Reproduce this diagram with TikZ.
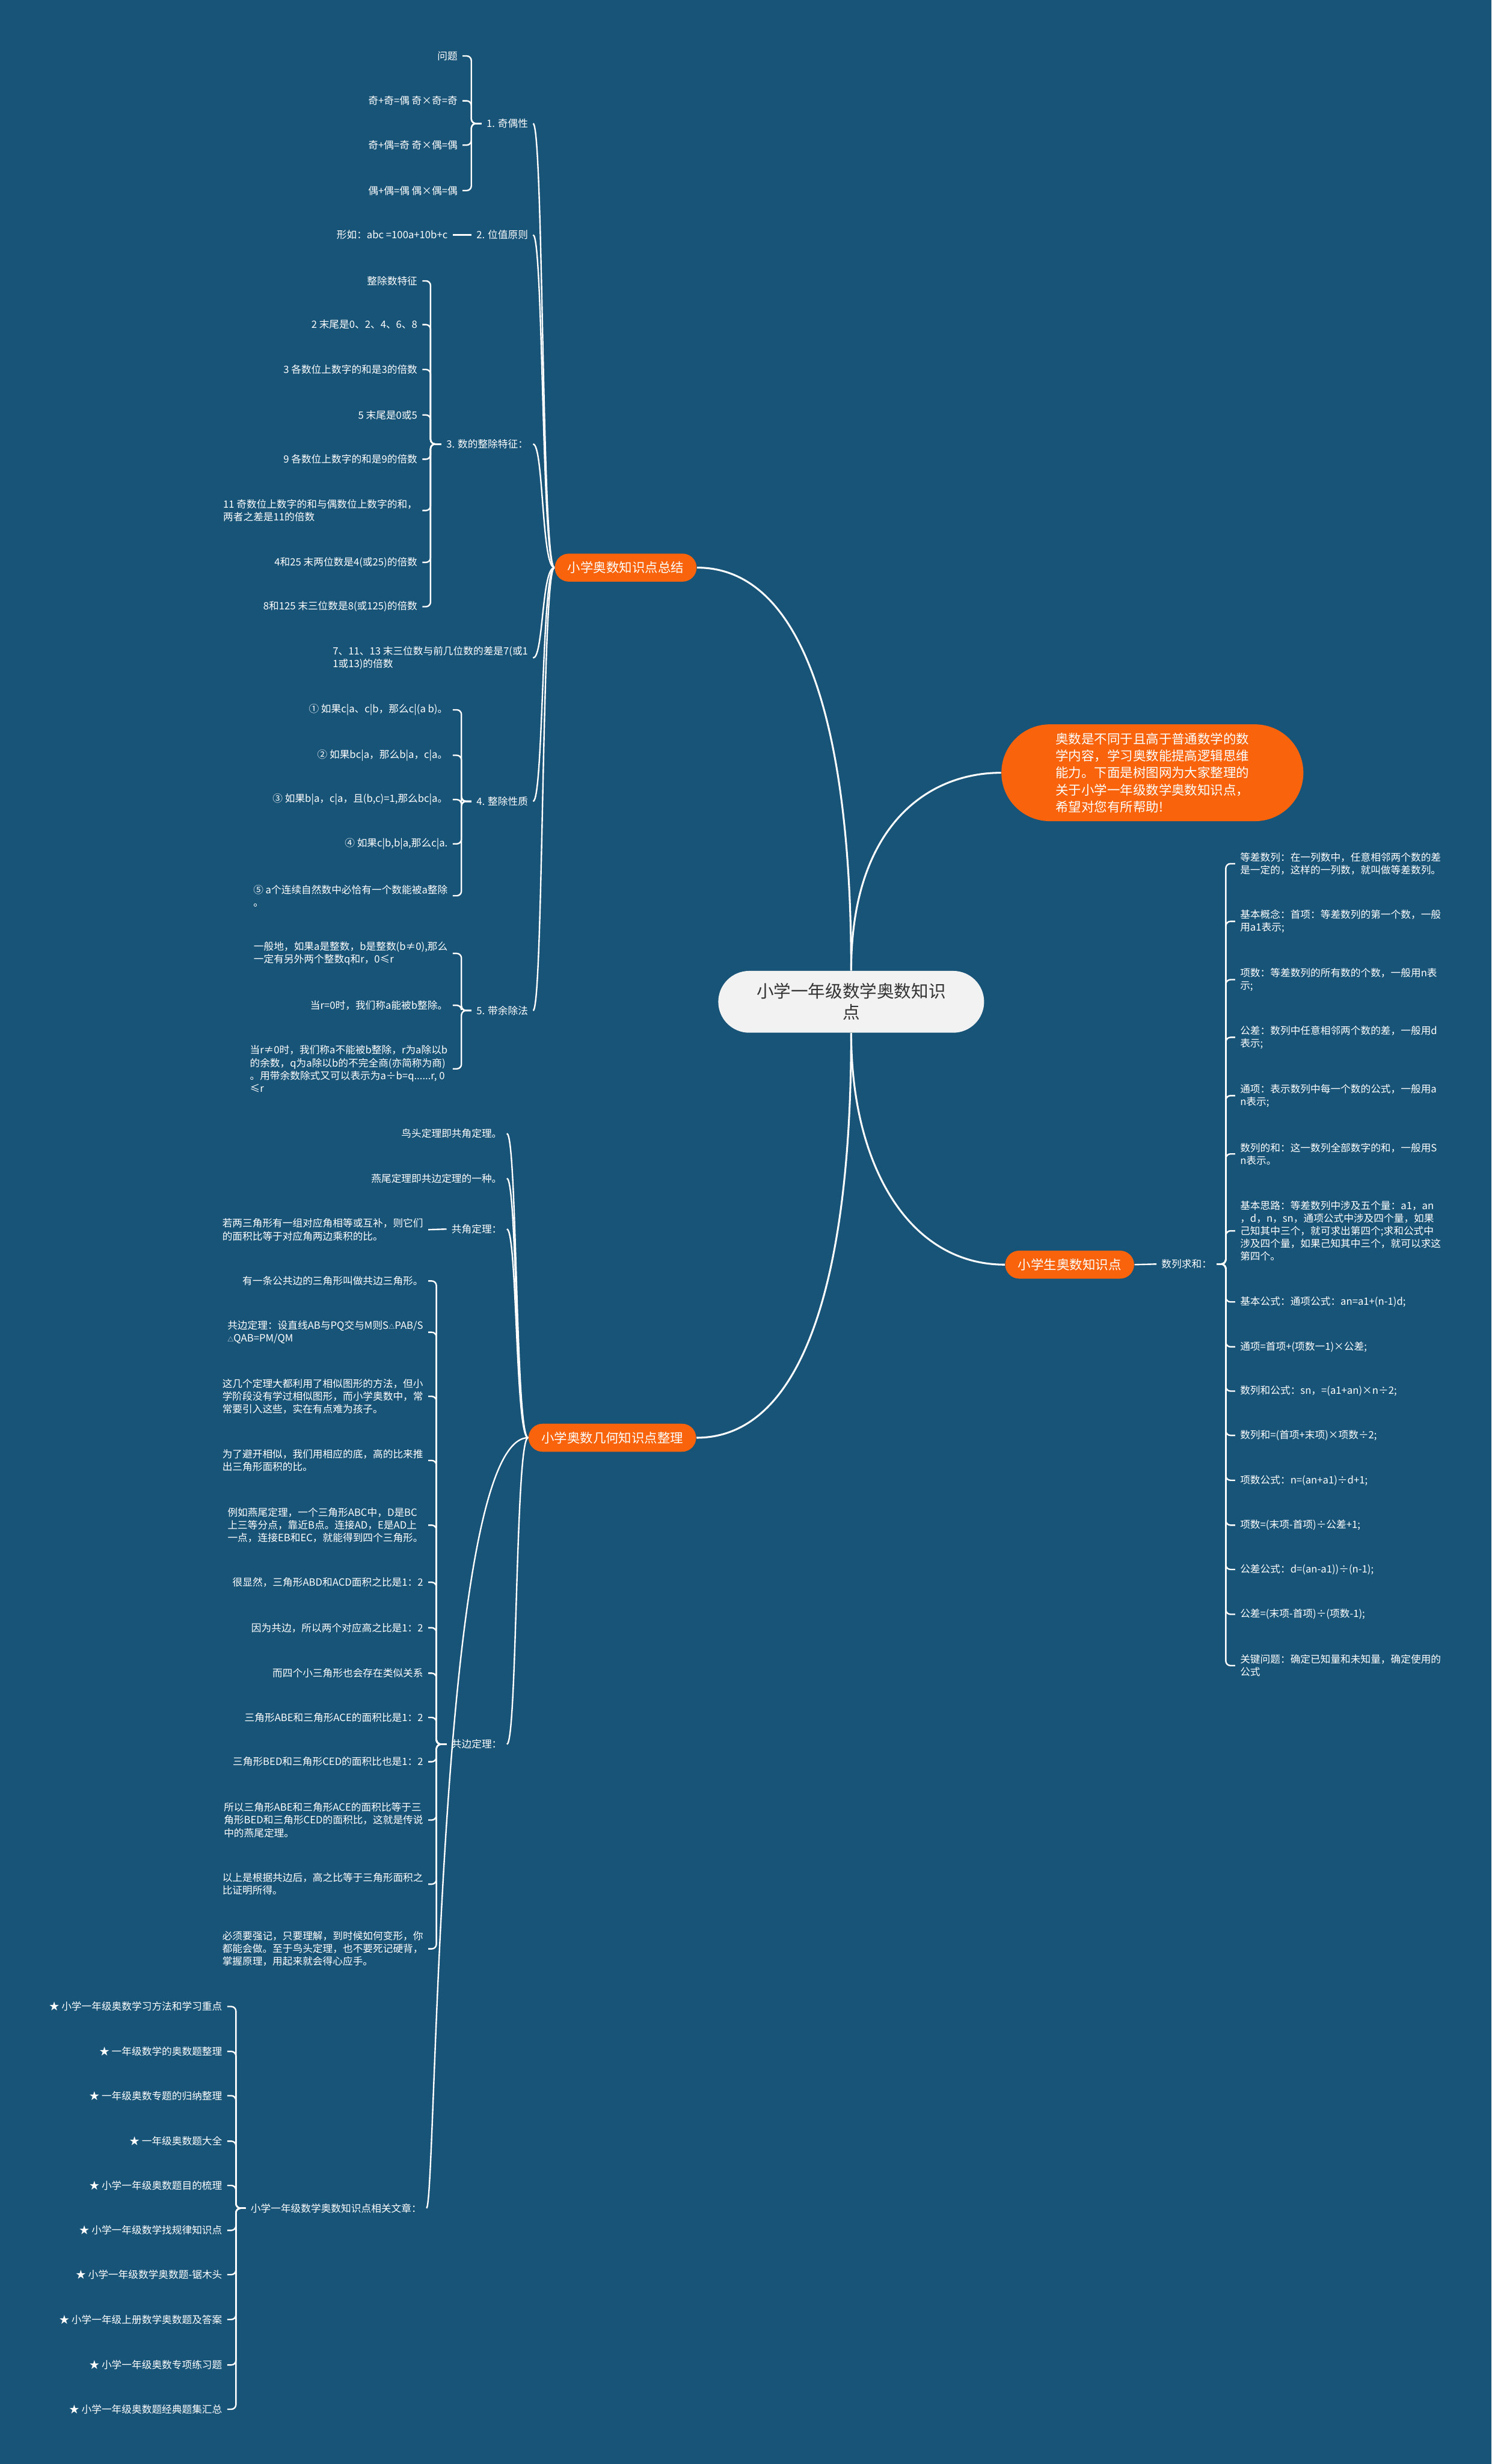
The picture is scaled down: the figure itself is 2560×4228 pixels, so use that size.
\documentclass[tikz,border=0pt]{standalone}
\usepackage{fontspec}
\setmainfont{Noto Sans CJK SC}
\usetikzlibrary{positioning}
\definecolor{mapbg}{HTML}{185478}
\definecolor{maporange}{HTML}{F8630B}
\definecolor{maproot}{HTML}{F2F2F2}
\definecolor{maprootink}{HTML}{333333}
\newcommand\leaffont{\fontsize{4.9pt}{6.2pt}\selectfont}
\newcommand\pillfont{\fontsize{6.3pt}{8.3pt}\selectfont}
\newcommand\rootfont{\fontsize{8.4pt}{10.2pt}\selectfont}
\newcommand\tri{{\fontsize{3pt}{3pt}\selectfont △}}
\tikzset{
  leaf/.style={inner xsep=0.08cm, inner ysep=0pt, text=white, font=\leaffont, align=left},
  leafL/.style={leaf, anchor=east},
  leafR/.style={leaf, anchor=west},
  pill/.style={fill=maporange, text=white, font=\pillfont, rounded corners=0.24cm, minimum height=0.48cm, inner xsep=0.22cm, inner ysep=0pt},
  link/.style={draw=white, line width=0.7pt},
  brace/.style={link, rounded corners=0.08cm},
  trunk/.style={draw=white, line width=0.9pt}
}
\begin{document}
\begin{tikzpicture}[x=0.01cm, y=-0.01cm]
\fill[mapbg] (0,0) rectangle (2560,4228);
\useasboundingbox (0,0) rectangle (2560,4228);

% root and main branches
\node[fill=maproot, text=maprootink, font=\rootfont, align=center, rounded corners=0.53cm, minimum width=4.56cm, minimum height=1.06cm] (root) at (1461,1719) {小学一年级数学奥数知识\\点};
\node[pill, minimum width=5.18cm, minimum height=1.66cm, rounded corners=0.83cm, align=left] (intro) at (1978,1326) {奥数是不同于且高于普通数学的数\\学内容，学习奥数能提高逻辑思维\\能力。下面是树图网为大家整理的\\关于小学一年级数学奥数知识点，\\希望对您有所帮助!};
\node[pill] (sumy) at (1074,974) {小学奥数知识点总结};
\node[pill] (geo) at (1051,2467) {小学奥数几何知识点整理};
\node[pill] (seq) at (1836,2170) {小学生奥数知识点};

\draw[trunk] (root.north) .. controls (1461,1250) and (1380,974) .. (sumy.east);
\draw[trunk] (root.north) .. controls (1461,1420) and (1590,1326) .. (intro.west);
\draw[trunk] (root.south) .. controls (1461,2190) and (1380,2467) .. (geo.east);
\draw[trunk] (root.south) .. controls (1461,2000) and (1560,2170) .. (seq.west);

% summary branch
\node[leafL] (par) at (915,212) {1. 奇偶性};
\node[leafL] (pv) at (915,403) {2. 位值原则};
\node[leafL] (divc) at (915,762) {3. 数的整除特征：};
\node[leafL] (d7) at (915,1129) {7、11、13 末三位数与前几位数的差是7(或1\\1或13)的倍数};
\node[leafL] (divp) at (915,1375) {4. 整除性质};
\node[leafL] (rem) at (915,1734) {5. 带余除法};
\foreach \c in {par,pv,divc,d7,divp,rem}
  \draw[link] (sumy.west) .. controls +(-22,0) and +(18,0) .. (\c.east);

\node[leafL] (par1) at (794,96) {问题};
\node[leafL] (par2) at (794,173) {奇+奇=偶 奇×奇=奇};
\node[leafL] (par3) at (794,249) {奇+偶=奇 奇×偶=偶};
\node[leafL] (par4) at (794,327) {偶+偶=偶 偶×偶=偶};
\coordinate (parS) at (809,212);
\foreach \c in {par1,par2,par3,par4}
  \draw[brace] (\c.east) -| (parS) -- (par.west);

\node[leafL] (pv1) at (777,403) {形如：abc =100a+10b+c};
\draw[link] (pv1.east) -- (pv.west);

\node[leafL] (dc1) at (725,482) {整除数特征};
\node[leafL] (dc2) at (725,557) {2 末尾是0、2、4、6、8};
\node[leafL] (dc3) at (725,634) {3 各数位上数字的和是3的倍数};
\node[leafL] (dc4) at (725,712) {5 末尾是0或5};
\node[leafL] (dc5) at (725,788) {9 各数位上数字的和是9的倍数};
\node[leafL] (dc6) at (725,876) {11 奇数位上数字的和与偶数位上数字的和，\\两者之差是11的倍数};
\node[leafL] (dc7) at (725,965) {4和25 末两位数是4(或25)的倍数};
\node[leafL] (dc8) at (725,1041) {8和125 末三位数是8(或125)的倍数};
\coordinate (divcS) at (739,762);
\foreach \c in {dc1,dc2,dc3,dc4,dc5,dc6,dc7,dc8}
  \draw[brace] (\c.east) -| (divcS) -- (divc.west);

\node[leafL] (dp1) at (777,1218) {① 如果c|a、c|b，那么c|(a b)。};
\node[leafL] (dp2) at (777,1296) {② 如果bc|a，那么b|a，c|a。};
\node[leafL] (dp3) at (777,1372) {③ 如果b|a，c|a，且(b,c)=1,那么bc|a。};
\node[leafL] (dp4) at (777,1448) {④ 如果c|b,b|a,那么c|a.};
\node[leafL] (dp5) at (777,1537) {⑤ a个连续自然数中必恰有一个数能被a整除\\。};
\coordinate (divpS) at (792,1375);
\foreach \c in {dp1,dp2,dp3,dp4,dp5}
  \draw[brace] (\c.east) -| (divpS) -- (divp.west);

\node[leafL] (rm1) at (777,1636) {一般地，如果a是整数，b是整数(b≠0),那么\\一定有另外两个整数q和r，0≤r};
\node[leafL] (rm2) at (777,1725) {当r=0时，我们称a能被b整除。};
\node[leafL] (rm3) at (777,1834) {当r≠0时，我们称a不能被b整除，r为a除以b\\的余数，q为a除以b的不完全商(亦简称为商)\\。用带余数除式又可以表示为a÷b=q......r, 0\\≤r};
\coordinate (remS) at (792,1734);
\foreach \c in {rm1,rm2,rm3}
  \draw[brace] (\c.east) -| (remS) -- (rem.west);

% geometry branch
\node[leafL] (g1) at (870,1945) {鸟头定理即共角定理。};
\node[leafL] (g2) at (870,2022) {燕尾定理即共边定理的一种。};
\node[leafL] (ga) at (870,2109) {共角定理：};
\node[leafL] (gb) at (870,2993) {共边定理：};
\node[leafL] (gr) at (732,3789) {小学一年级数学奥数知识点相关文章：};
\foreach \c in {g1,g2,ga,gb}
  \draw[link] (geo.west) .. controls +(-22,0) and +(18,0) .. (\c.east);
\draw[link] (geo.west) .. controls (749,2467) and (749,3789) .. (gr.east);

\node[leafL] (ga1) at (735,2110) {若两三角形有一组对应角相等或互补，则它们\\的面积比等于对应角两边乘积的比。};
\draw[link] (ga1.east) -- (ga.west);

\node[leafL] (gb1) at (735,2198) {有一条公共边的三角形叫做共边三角形。};
\node[leafL] (gb2) at (735,2286) {共边定理：设直线AB与PQ交与M则S\tri PAB/S\\\tri QAB=PM/QM};
\node[leafL] (gb3) at (735,2396) {这几个定理大都利用了相似图形的方法，但小\\学阶段没有学过相似图形，而小学奥数中，常\\常要引入这些，实在有点难为孩子。};
\node[leafL] (gb4) at (735,2506) {为了避开相似，我们用相应的底，高的比来推\\出三角形面积的比。};
\node[leafL] (gb5) at (735,2617) {例如燕尾定理，一个三角形ABC中，D是BC\\上三等分点，靠近B点。连接AD，E是AD上\\一点，连接EB和EC，就能得到四个三角形。};
\node[leafL] (gb6) at (735,2715) {很显然，三角形ABD和ACD面积之比是1：2};
\node[leafL] (gb7) at (735,2793) {因为共边，所以两个对应高之比是1：2};
\node[leafL] (gb8) at (735,2871) {而四个小三角形也会存在类似关系};
\node[leafL] (gb9) at (735,2947) {三角形ABE和三角形ACE的面积比是1：2};
\node[leafL] (gb10) at (735,3023) {三角形BED和三角形CED的面积比也是1：2};
\node[leafL] (gb11) at (735,3123) {所以三角形ABE和三角形ACE的面积比等于三\\角形BED和三角形CED的面积比，这就是传说\\中的燕尾定理。};
\node[leafL] (gb12) at (735,3233) {以上是根据共边后，高之比等于三角形面积之\\比证明所得。};
\node[leafL] (gb13) at (735,3344) {必须要强记，只要理解，到时候如何变形，你\\都能会做。至于鸟头定理，也不要死记硬背，\\掌握原理，用起来就会得心应手。};
\coordinate (gbS) at (749,2993);
\foreach \c in {gb1,gb2,gb3,gb4,gb5,gb6,gb7,gb8,gb9,gb10,gb11,gb12,gb13}
  \draw[brace] (\c.east) -| (gbS) -- (gb.west);

\node[leafL] (gr1) at (390,3443) {★ 小学一年级奥数学习方法和学习重点};
\node[leafL] (gr2) at (390,3520) {★ 一年级数学的奥数题整理};
\node[leafL] (gr3) at (390,3596) {★ 一年级奥数专题的归纳整理};
\node[leafL] (gr4) at (390,3674) {★ 一年级奥数题大全};
\node[leafL] (gr5) at (390,3750) {★ 小学一年级奥数题目的梳理};
\node[leafL] (gr6) at (390,3827) {★ 小学一年级数学找规律知识点};
\node[leafL] (gr7) at (390,3903) {★ 小学一年级数学奥数题-锯木头};
\node[leafL] (gr8) at (390,3980) {★ 小学一年级上册数学奥数题及答案};
\node[leafL] (gr9) at (390,4058) {★ 小学一年级奥数专项练习题};
\node[leafL] (gr10) at (390,4134) {★ 小学一年级奥数题经典题集汇总};
\coordinate (grS) at (405,3789);
\foreach \c in {gr1,gr2,gr3,gr4,gr5,gr6,gr7,gr8,gr9,gr10}
  \draw[brace] (\c.east) -| (grS) -- (gr.west);

% sequence branch
\node[leafR] (seqsum) at (1985,2169) {数列求和：};
\draw[link] (seq.east) -- (seqsum.west);
\node[leafR] (sq1) at (2120,1482) {等差数列：在一列数中，任意相邻两个数的差\\是一定的，这样的一列数，就叫做等差数列。};
\node[leafR] (sq2) at (2120,1581) {基本概念：首项：等差数列的第一个数，一般\\用a1表示;};
\node[leafR] (sq3) at (2120,1681) {项数：等差数列的所有数的个数，一般用n表\\示;};
\node[leafR] (sq4) at (2120,1780) {公差：数列中任意相邻两个数的差，一般用d\\表示;};
\node[leafR] (sq5) at (2120,1880) {通项：表示数列中每一个数的公式，一般用a\\n表示;};
\node[leafR] (sq6) at (2120,1980) {数列的和：这一数列全部数字的和，一般用S\\n表示。};
\node[leafR] (sq7) at (2120,2112) {基本思路：等差数列中涉及五个量：a1，an\\，d，n，sn，通项公式中涉及四个量，如果\\己知其中三个，就可求出第四个;求和公式中\\涉及四个量，如果己知其中三个，就可以求这\\第四个。};
\node[leafR] (sq8) at (2120,2234) {基本公式：通项公式：an=a1+(n-1)d;};
\node[leafR] (sq9) at (2120,2311) {通项=首项+(项数一1)×公差;};
\node[leafR] (sq10) at (2120,2387) {数列和公式：sn，=(a1+an)×n÷2;};
\node[leafR] (sq11) at (2120,2463) {数列和=(首项+末项)×项数÷2;};
\node[leafR] (sq12) at (2120,2540) {项数公式：n=(an+a1)÷d+1;};
\node[leafR] (sq13) at (2120,2617) {项数=(末项-首项)÷公差+1;};
\node[leafR] (sq14) at (2120,2693) {公差公式：d=(an-a1))÷(n-1);};
\node[leafR] (sq15) at (2120,2770) {公差=(末项-首项)÷(项数-1);};
\node[leafR] (sq16) at (2120,2858) {关键问题：确定已知量和未知量，确定使用的\\公式};
\coordinate (seqS) at (2104,2169);
\foreach \c in {sq1,sq2,sq3,sq4,sq5,sq6,sq7,sq8,sq9,sq10,sq11,sq12,sq13,sq14,sq15,sq16}
  \draw[brace] (\c.west) -| (seqS) -- (seqsum.east);
\end{tikzpicture}
\end{document}
